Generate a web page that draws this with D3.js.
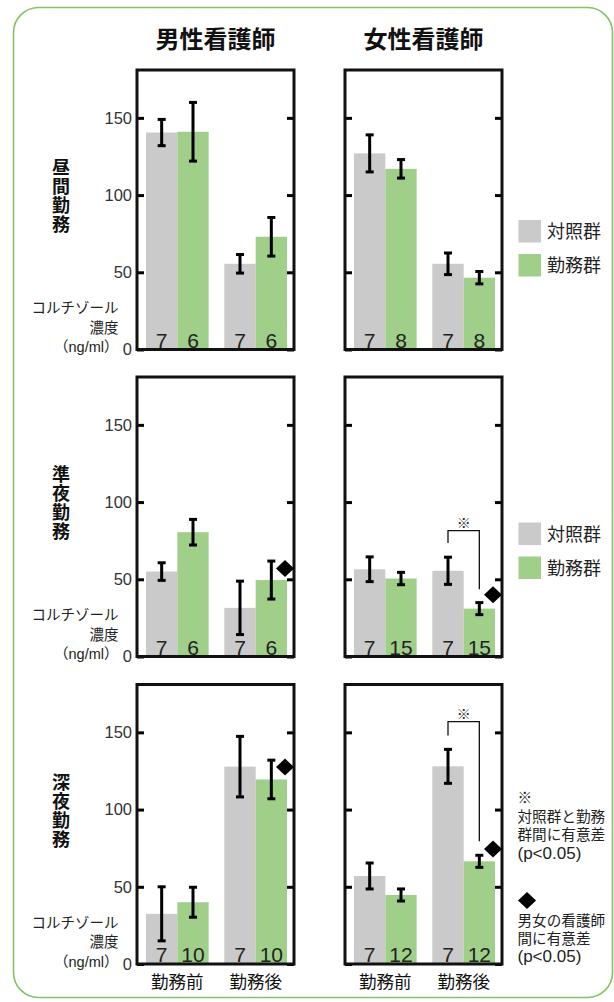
<!DOCTYPE html>
<html>
<head>
<meta charset="utf-8">
<script src="https://cdn.jsdelivr.net/npm/d3@7"></script>
<style>
  body { margin: 0; background: white; }
  text { font-family: "Liberation Sans", "Noto Sans CJK JP", sans-serif; }
</style>
</head>
<body>
<div id="container"></div>
<script>
/* CONSTANTS AND DATA */

const sexes = ["男性看護師", "女性看護師"]
const shifts = ["昼間勤務", "準夜勤務", "深夜勤務"]
const conditions = ["勤務前", "勤務後"]
const groups = ["対照群", "勤務群"]
const tickValues = [0, 50, 100, 150]

// order in each array: 対照群/勤務前, 勤務群/勤務前, 対照群/勤務後, 勤務群/勤務後
const dayMale = [140.5, 141, 55.5, 73]
const dayMaleErr = [8.5, 19, 6, 12.5]
const dayMaleN = [7, 6, 7, 6]
const dayFemale = [127, 117, 55.5, 46.5]
const dayFemaleErr = [12, 6, 7, 4]
const dayFemaleN = [7, 8, 7, 8]

const eveMale = [55, 80.5, 31.5, 49.5]
const eveMaleErr = [5.7, 8.3, 17.3, 12.3]
const eveMaleN = [7, 6, 7, 6]
const eveFemale = [56.5, 50.5, 55.5, 31]
const eveFemaleErr = [8, 4, 8.8, 3.9]
const eveFemaleN = [7, 15, 7, 15]

const nightMale = [32.5, 40, 127.8, 119.5]
const nightMaleErr = [17.5, 9.7, 19.6, 12.5]
const nightMaleN = [7, 10, 7, 10]
const nightFemale = [57, 44.7, 128, 66.5]
const nightFemaleErr = [8.4, 3.9, 11, 3.9]
const nightFemaleN = [7, 12, 7, 12]

// ◆ markers (value where the marker sits) per panel, null = none
const diamondMale = [null, 57, 127.5]
const diamondFemale = [null, 40, 74.5]
// ※ brackets on female panels: [top, left end, right end]
const bracketFemale = [null, [81.5, 73.5, 43.5], [157, 148, 79.5]]

const panels = [
  [dayMale, dayMaleErr, dayMaleN, dayFemale, dayFemaleErr, dayFemaleN],
  [eveMale, eveMaleErr, eveMaleN, eveFemale, eveFemaleErr, eveFemaleN],
  [nightMale, nightMaleErr, nightMaleN, nightFemale, nightFemaleErr, nightFemaleN]
]

const colX = [137, 345]
const panelW = 157
const rowTop = [70, 377, 684.5]
const panelH = 279.5
const legendY = [[150, 184], [145.5, 179.5], null]

const colors = { "対照群": "#c9cac9", "勤務群": "#a0cf8a" }

const svg = d3.select("#container")
  .append("svg")
  .attr("width", 614)
  .attr("height", 1002)
  .style("background-color", "white")

// green rounded frame
svg.append("rect")
  .attr("x", 13.5).attr("y", 7.5)
  .attr("width", 599).attr("height", 990)
  .attr("rx", 25)
  .attr("fill", "none")
  .attr("stroke", "#84c264")
  .attr("stroke-width", 1.6)

// column titles
sexes.forEach((s, c) => {
  svg.append("text")
    .attr("x", colX[c] + panelW / 2)
    .attr("y", 48)
    .attr("text-anchor", "middle")
    .attr("font-size", 24)
    .attr("font-weight", "bold")
    .attr("fill", "#111")
    .text(s)
})

const diamondPath = "M0,-8.5L9,0L0,8.5L-9,0Z"

shifts.forEach((shift, r) => {
  const top = rowTop[r]
  const y = d3.scaleLinear().domain([0, 181]).range([top + panelH, top])

  // row label (vertical)
  shift.split("").forEach((ch, i) => {
    svg.append("text")
      .attr("x", 61).attr("y", top + 97 + i * 19 + 7)
      .attr("text-anchor", "middle")
      .attr("font-size", 18)
      .attr("font-weight", "bold")
      .attr("fill", "#111")
      .text(ch)
  })

  // y axis title
  const ylab = ["コルチゾール", "濃度", "（ng/ml）"]
  ylab.forEach((t, i) => {
    svg.append("text")
      .attr("x", 118.5)
      .attr("y", top + 243 + i * 19.5)
      .attr("text-anchor", "end")
      .attr("font-size", 14.5)
      .attr("fill", "#222")
      .text(t)
  })

  sexes.forEach((sex, c) => {
    const x0 = colX[c]
    const means = panels[r][c * 3]
    const errs = panels[r][c * 3 + 1]
    const ns = panels[r][c * 3 + 2]

    const x = d3.scaleBand().domain(conditions)
      .range([x0 + 9, x0 + 150]).paddingInner(0.2)
    const xs = d3.scaleBand().domain(groups).range([0, x.bandwidth()])

    const rows = means.map((m, i) => ({
      cond: conditions[Math.floor(i / 2)],
      group: groups[i % 2],
      mean: m, err: errs[i], n: ns[i]
    }))

    const g = svg.append("g")

    g.selectAll(".bar")
      .data(rows)
      .join("rect")
      .attr("x", d => x(d.cond) + xs(d.group))
      .attr("y", d => y(d.mean))
      .attr("width", xs.bandwidth())
      .attr("height", d => y(0) - y(d.mean))
      .attr("fill", d => colors[d.group])

    const cx = d => x(d.cond) + xs(d.group) + xs.bandwidth() / 2

    g.selectAll(".n")
      .data(rows)
      .join("text")
      .attr("x", cx)
      .attr("y", y(0) - 2)
      .attr("text-anchor", "middle")
      .attr("font-size", 21)
      .attr("fill", "#222")
      .text(d => d.n)

    g.selectAll(".err")
      .data(rows)
      .join("line")
      .attr("x1", cx).attr("x2", cx)
      .attr("y1", d => y(d.mean + d.err))
      .attr("y2", d => y(d.mean - d.err))
      .attr("stroke", "#000").attr("stroke-width", 3)
    ;["top", "bot"].forEach(k => {
      g.selectAll(".cap" + k)
        .data(rows)
        .join("line")
        .attr("x1", d => cx(d) - 4).attr("x2", d => cx(d) + 4)
        .attr("y1", d => y(k === "top" ? d.mean + d.err : d.mean - d.err))
        .attr("y2", d => y(k === "top" ? d.mean + d.err : d.mean - d.err))
        .attr("stroke", "#000").attr("stroke-width", 3)
    })

    // axes: ticks inside on both sides
    const left = g.append("g")
      .attr("transform", `translate(${x0},0)`)
      .call(d3.axisLeft(y).tickValues(tickValues).tickSize(-7).tickPadding(5))
    left.select(".domain").remove()
    left.selectAll("line").attr("stroke", "#000").attr("stroke-width", 3)
    left.selectAll("text")
      .attr("font-size", 16.5)
      .attr("fill", "#333")
      .style("font-family", "'Liberation Sans', sans-serif")
    if (c === 1) left.selectAll("text").remove()

    const right = g.append("g")
      .attr("transform", `translate(${x0 + panelW},0)`)
      .call(d3.axisRight(y).tickValues(tickValues).tickSize(-7).tickFormat(""))
    right.select(".domain").remove()
    right.selectAll("line").attr("stroke", "#000").attr("stroke-width", 3)

    // frame
    g.append("rect")
      .attr("x", x0).attr("y", top)
      .attr("width", panelW).attr("height", panelH)
      .attr("fill", "none")
      .attr("stroke", "#111").attr("stroke-width", 3)

    // ◆ marker
    const dv = (c === 0 ? diamondMale : diamondFemale)[r]
    if (dv !== null) {
      g.append("path")
        .attr("d", diamondPath)
        .attr("transform", `translate(${x(conditions[1]) + x.bandwidth() - 2},${y(dv)})`)
        .attr("fill", "#000")
    }

    // ※ bracket
    if (c === 1 && bracketFemale[r]) {
      const [bt, bl, br] = bracketFemale[r]
      const lx = x(conditions[1]) + xs(groups[0]) + xs.bandwidth() / 2
      const rx = x(conditions[1]) + xs(groups[1]) + xs.bandwidth() / 2
      g.append("path")
        .attr("d", `M${lx},${y(bl)}V${y(bt)}H${rx}V${y(br)}`)
        .attr("fill", "none")
        .attr("stroke", "#111").attr("stroke-width", 1.3)
      g.append("text")
        .attr("x", (lx + rx) / 2)
        .attr("y", y(bt) - 3)
        .attr("text-anchor", "middle")
        .attr("font-size", 14)
        .attr("fill", "#222")
        .text("※")
    }

    // x labels on bottom row
    if (r === 2) {
      conditions.forEach(cond => {
        g.append("text")
          .attr("x", x(cond) + x.bandwidth() / 2)
          .attr("y", 988)
          .attr("text-anchor", "middle")
          .attr("font-size", 17.5)
          .attr("fill", "#111")
          .text(cond)
      })
    }
  })

  // legend
  if (legendY[r]) {
    groups.forEach((grp, i) => {
      const ly = top + legendY[r][i]
      svg.append("rect")
        .attr("x", 518.5).attr("y", ly)
        .attr("width", 22.5).attr("height", 22.5)
        .attr("fill", colors[grp])
      svg.append("text")
        .attr("x", 547)
        .attr("y", ly + 18)
        .attr("font-size", 18)
        .attr("fill", "#222")
        .text(grp)
    })
  }
})

// notes
const note1 = ["※", "対照群と勤務", "群間に有意差", "(p<0.05)"]
const note2 = ["男女の看護師", "間に有意差", "(p<0.05)"]
note1.forEach((t, i) => {
  svg.append("text")
    .attr("x", 517.5)
    .attr("y", 803 + i * 18.6)
    .attr("font-size", t[0] === "(" ? 17 : 14.6)
    .attr("fill", "#222")
    .text(t)
})
svg.append("path")
  .attr("d", diamondPath)
  .attr("transform", "translate(527,900.5)")
  .attr("fill", "#000")
note2.forEach((t, i) => {
  svg.append("text")
    .attr("x", 517.5)
    .attr("y", 925.5 + i * 18.4)
    .attr("font-size", t[0] === "(" ? 17 : 14.6)
    .attr("fill", "#222")
    .text(t)
})
</script>
</body>
</html>
